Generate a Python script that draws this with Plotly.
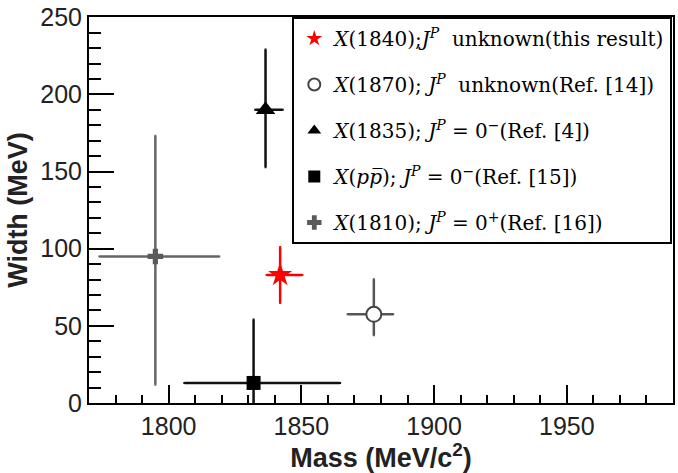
import plotly.graph_objects as go

# ---- data ----
names = [
    "<i>X</i>(1840);<i>J</i><sup><i>P</i></sup>\u00a0\u00a0unknown(this result)",
    "<i>X</i>(1870);\u00a0<i>J</i><sup><i>P</i></sup>\u00a0\u00a0unknown(Ref. [14])",
    "<i>X</i>(1835);\u00a0<i>J</i><sup><i>P</i></sup>\u00a0=\u00a00<sup>\u2212</sup>(Ref. [4])",
    "<i>X</i>(<i>p</i><i>p\u0305</i>);\u00a0<i>J</i><sup><i>P</i></sup>\u00a0=\u00a00<sup>\u2212</sup>(Ref. [15])",
    "<i>X</i>(1810);\u00a0<i>J</i><sup><i>P</i></sup>\u00a0=\u00a00<sup>+</sup>(Ref. [16])",
]
mass = [1842.0, 1877.3, 1836.5, 1832.0, 1795.0]
mass_err_minus = [5.0, 9.8, 3.8, 26.0, 21.0]
mass_err_plus = [8.3, 7.2, 6.4, 32.5, 24.0]
width = [83.0, 57.5, 190.0, 13.0, 95.0]
width_err_minus = [18.0, 13.5, 37.0, 13.0, 83.0]
width_err_plus = [18.0, 22.5, 39.0, 41.0, 78.0]

y_tick_vals = [0, 50, 100, 150, 200, 250]
x_tick_vals = [1800, 1850, 1900, 1950]

symbols = ["star", "circle", "triangle-up", "square", "cross"]
colors = ["#ff0000", "#ffffff", "#000000", "#000000", "#5a5a5a"]
line_colors = ["#ff0000", "#444444", "#000000", "#000000", "#5a5a5a"]
bar_colors = ["#ff0000", "#555555", "#111111", "#111111", "#666666"]
sizes = [18, 15, 17, 14, 13]

fig = go.Figure()
for i in range(len(names)):
    fig.add_trace(go.Scatter(
        x=[mass[i]], y=[width[i]], mode="markers", name=names[i],
        legendgroup=f"g{i}",
        marker=dict(symbol=symbols[i], size=sizes[i], color=colors[i],
                    line=dict(width=2 if i == 1 else 0, color=line_colors[i])),
        error_x=dict(type="data", symmetric=False, array=[mass_err_plus[i]],
                     arrayminus=[mass_err_minus[i]], color=bar_colors[i],
                     thickness=2.5, width=1),
        error_y=dict(type="data", symmetric=False, array=[width_err_plus[i]],
                     arrayminus=[width_err_minus[i]], color=bar_colors[i],
                     thickness=2.5, width=1),
    ))

axis_font = dict(family="Liberation Sans, Arial, sans-serif", size=25, color="#222")
title_font = dict(family="Liberation Sans, Arial, sans-serif", size=27, color="#222")

fig.update_layout(
    width=678, height=473,
    margin=dict(l=89, r=3, t=14, b=70),
    paper_bgcolor="white", plot_bgcolor="white",
    showlegend=True,
    legend=dict(
        x=(293 - 89) / (675 - 89), xanchor="left", y=1.0, yanchor="top",
        bgcolor="white", bordercolor="black", borderwidth=2,
        font=dict(family="DejaVu Serif, serif", size=20, color="black"),
        traceorder="grouped", tracegroupgap=17, itemsizing="constant",
    ),
    xaxis=dict(
        range=[1770, 1990], tickvals=x_tick_vals,
        ticks="inside", ticklen=18, tickwidth=2, tickcolor="black",
        minor=dict(dtick=10, tick0=1770, ticks="inside", ticklen=8, tickwidth=2, tickcolor="black"),
        showline=True, linecolor="black", linewidth=2, mirror=True,
        showgrid=False, zeroline=False,
        tickfont=axis_font, ticklabeloverflow="allow",
        title=dict(text="<b>Mass (MeV/c<sup>2</sup>)</b>", font=title_font, standoff=10),
    ),
    yaxis=dict(
        range=[0, 250.2], tickvals=y_tick_vals,
        ticks="inside", ticklen=25, tickwidth=2, tickcolor="black",
        minor=dict(dtick=10, tick0=0, ticks="inside", ticklen=12, tickwidth=2, tickcolor="black"),
        showline=True, linecolor="black", linewidth=2, mirror=True,
        showgrid=False, zeroline=False,
        tickfont=axis_font, ticklabeloverflow="allow",
        title=dict(text="<b>Width (MeV)</b>", font=title_font, standoff=5),
    ),
)

fig.write_html("out.html")
